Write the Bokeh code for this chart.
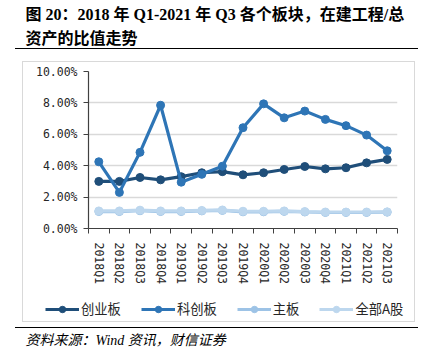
from bokeh.plotting import figure
from bokeh.models import (Label, Legend, LegendItem, FixedTicker, PrintfTickFormatter,
                          Range1d, ColumnDataSource, InlineStyleSheet)
from bokeh.embed import file_html
from bokeh.resources import INLINE

quarters = ["2018Q1", "2018Q2", "2018Q3", "2018Q4", "2019Q1", "2019Q2", "2019Q3", "2019Q4",
            "2020Q1", "2020Q2", "2020Q3", "2020Q4", "2021Q1", "2021Q2", "2021Q3"]
chuangye = [3.00, 3.00, 3.25, 3.10, 3.30, 3.55, 3.62, 3.42, 3.55, 3.76, 3.95, 3.80, 3.87, 4.18, 4.40]
kechuang = [4.25, 2.30, 4.85, 7.85, 2.95, 3.45, 3.97, 6.42, 7.94, 7.05, 7.48, 6.95, 6.55, 5.95, 4.95]
zhuban = [1.08, 1.08, 1.13, 1.08, 1.08, 1.12, 1.15, 1.06, 1.06, 1.09, 1.05, 1.02, 1.02, 1.02, 1.04]
quanbu = [1.12, 1.12, 1.17, 1.12, 1.12, 1.15, 1.18, 1.10, 1.10, 1.12, 1.08, 1.05, 1.05, 1.05, 1.06]
series_names = ["创业板", "科创板", "主板", "全部A股"]
series_values = [chuangye, kechuang, zhuban, quanbu]
series_colors = ["#1F4E79", "#2E75B6", "#9DC3E6", "#BDD7EE"]
y_ticks = [0, 2, 4, 6, 8, 10]

title1 = "图 20：2018 年 Q1-2021 年 Q3 各个板块，在建工程/总"
title2 = "资产的比值走势"
footer = "资料来源：Wind 资讯，财信证券"

TFONT = "Liberation Serif, Noto Sans CJK SC"
TICKFONT = "DejaVu Sans Mono"
W, H = 427, 357

# decorative frame box and the two black rules (page furniture)
css = """
:host { position: relative; }
:host::before { content: ""; position: absolute; left: 22px; top: 61px; width: 391px;
  height: 259px; border: 1px solid #D9D9D9; z-index: 5; pointer-events: none; }
:host::after { content: ""; position: absolute; left: 15px; top: 48px; width: 403px;
  height: 277.5px; border-top: 1.5px solid #000; border-bottom: 1.5px solid #000;
  z-index: 5; pointer-events: none; }
"""

n = len(quarters)
centers = [i + 0.5 for i in range(n)]

# ---------------- main chart
p = figure(width=W, height=H, output_backend="svg", toolbar_location=None,
           x_range=Range1d(0, n), y_range=Range1d(0, 10),
           min_border_left=88, min_border_right=30, min_border_top=71, min_border_bottom=129,
           stylesheets=[InlineStyleSheet(css=css)])
if p.title is not None:
    p.title.visible = False
p.outline_line_color = None
p.xgrid.visible = False
p.ygrid.grid_line_color = "#D9D9D9"
p.ygrid.grid_line_width = 1.5
p.ygrid.ticker = FixedTicker(ticks=y_ticks)

xa = p.xaxis[0]
xa.ticker = FixedTicker(ticks=centers, minor_ticks=list(range(n + 1)))
xa.major_label_overrides = {c: q for c, q in zip(centers, quarters)}
xa.major_label_orientation = "vertical"
xa.major_tick_line_color = None
xa.minor_tick_line_color = "#404040"
xa.minor_tick_in = 0
xa.minor_tick_out = 5
xa.axis_line_color = "#404040"
xa.axis_line_width = 1.2
xa.major_label_text_font = TICKFONT
xa.major_label_text_font_size = "11.5px"
xa.major_label_text_color = "#262626"
xa.major_label_standoff = 8

ya = p.yaxis[0]
ya.ticker = FixedTicker(ticks=y_ticks)
ya.formatter = PrintfTickFormatter(format="%.2f%%")
ya.major_tick_in = 0
ya.major_tick_out = 5
ya.minor_tick_line_color = None
ya.axis_line_color = "#404040"
ya.axis_line_width = 1.2
ya.major_tick_line_color = "#404040"
ya.major_label_text_font = TICKFONT
ya.major_label_text_font_size = "11.5px"
ya.major_label_text_color = "#262626"
ya.major_label_standoff = 6

sources = []
for vals, col in zip(series_values, series_colors):
    src = ColumnDataSource(dict(x=centers, y=vals))
    sources.append(src)
    p.line("x", "y", source=src, line_color=col, line_width=3.2)
    p.scatter("x", "y", source=src, size=8, fill_color=col, line_color=col)

# ---------------- transparent overlay for title, legend and source note
b = figure(width=W, height=H, output_backend="svg", toolbar_location=None,
           x_range=Range1d(0, W), y_range=Range1d(H, 0),
           x_axis_location=None, y_axis_location=None, min_border=0,
           styles={"position": "absolute", "top": "0px", "left": "0px"})
if b.title is not None:
    b.title.visible = False
b.grid.visible = False
b.outline_line_color = None
b.background_fill_alpha = 0
b.border_fill_alpha = 0
b.extra_x_ranges = {"off": Range1d(-100, -99)}

items = []
for name, src, col in zip(series_names, sources, series_colors):
    r1 = b.line("x", "y", source=src, line_color=col, line_width=3.2, x_range_name="off")
    r2 = b.scatter("x", "y", source=src, size=8, fill_color=col, line_color=col,
                   x_range_name="off")
    items.append(LegendItem(label=name, renderers=[r1, r2]))

legend = Legend(items=items, orientation="horizontal", location=(45, 39),
                glyph_width=34, glyph_height=16, label_standoff=2, spacing=20,
                padding=0, margin=0, border_line_color=None, background_fill_alpha=0,
                label_text_font="Noto Sans CJK SC", label_text_font_size="13.3px",
                label_text_color="#262626")
b.add_layout(legend, "center")

b.add_layout(Label(x=25, y=14, text=title1, text_font=TFONT, text_font_style="bold",
                   text_font_size="16px", text_baseline="middle", text_color="black"))
b.add_layout(Label(x=25, y=38, text=title2, text_font=TFONT, text_font_style="bold",
                   text_font_size="16px", text_baseline="middle", text_color="black"))
b.add_layout(Label(x=25, y=340, text=footer, text_font=TFONT, text_font_style="italic",
                   text_font_size="14px", text_baseline="middle", text_color="black"))

open("out.html", "w").write(file_html([p, b], INLINE))
